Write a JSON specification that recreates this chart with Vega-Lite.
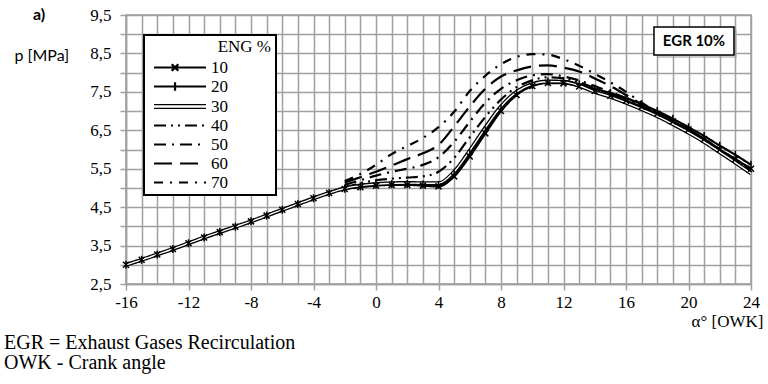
{
  "$schema": "https://vega.github.io/schema/vega-lite/v6.json",
  "width": 625,
  "height": 269,
  "autosize": {"type": "none"},
  "padding": {"left": 126, "top": 15, "right": 17, "bottom": 100},
  "background": "white",
  "config": {
    "view": {"stroke": "#a0a0a0", "strokeWidth": 1.5},
    "font": "Liberation Serif",
    "axis": {
      "grid": true, "gridColor": "#a0a0a0", "gridWidth": 1.5, "gridOpacity": 1,
      "domainColor": "#a0a0a0", "domainWidth": 1.5,
      "tickColor": "#a0a0a0", "tickWidth": 1.5, "tickSize": 6,
      "labelFont": "Liberation Serif", "labelFontSize": 17, "labelColor": "black",
      "labelOverlap": false, "labelFlush": false,
      "titleColor": "black", "titleFontWeight": "normal"
    },
    "title": {"font": "Liberation Serif", "fontWeight": "normal", "color": "black"}
  },
  "title": {"text": ["EGR = Exhaust Gases Recirculation", "OWK - Crank angle"], "orient": "bottom", "anchor": "start", "frame": "group", "dx": -122, "offset": 4, "font": "Liberation Serif", "fontSize": 20, "fontWeight": "normal", "lineHeight": 20, "color": "black"},
  "datasets": {
    "curves": [
      {"ENG":10,"angle":-16,"p":3.00},{"ENG":10,"angle":-15,"p":3.13},{"ENG":10,"angle":-14,"p":3.27},{"ENG":10,"angle":-13,"p":3.41},{"ENG":10,"angle":-12,"p":3.56},{"ENG":10,"angle":-11,"p":3.71},{"ENG":10,"angle":-10,"p":3.85},{"ENG":10,"angle":-9,"p":3.99},{"ENG":10,"angle":-8,"p":4.13},{"ENG":10,"angle":-7,"p":4.28},{"ENG":10,"angle":-6,"p":4.43},{"ENG":10,"angle":-5,"p":4.58},{"ENG":10,"angle":-4,"p":4.73},{"ENG":10,"angle":-3,"p":4.87},
      {"ENG":10,"angle":-2,"p":4.97},{"ENG":10,"angle":-1,"p":5.02},{"ENG":10,"angle":0,"p":5.06},{"ENG":10,"angle":1,"p":5.08},{"ENG":10,"angle":2,"p":5.08},{"ENG":10,"angle":3,"p":5.06},{"ENG":10,"angle":4,"p":5.04},{"ENG":10,"angle":5,"p":5.30},{"ENG":10,"angle":6,"p":5.82},{"ENG":10,"angle":7,"p":6.42},{"ENG":10,"angle":8,"p":7.00},{"ENG":10,"angle":9,"p":7.42},{"ENG":10,"angle":10,"p":7.65},{"ENG":10,"angle":11,"p":7.73},{"ENG":10,"angle":12,"p":7.72},{"ENG":10,"angle":13,"p":7.64},{"ENG":10,"angle":14,"p":7.52},{"ENG":10,"angle":15,"p":7.40},{"ENG":10,"angle":16,"p":7.27},{"ENG":10,"angle":17,"p":7.11},{"ENG":10,"angle":18,"p":6.93},{"ENG":10,"angle":19,"p":6.73},{"ENG":10,"angle":20,"p":6.52},{"ENG":10,"angle":21,"p":6.27},{"ENG":10,"angle":22,"p":6.00},{"ENG":10,"angle":23,"p":5.75},{"ENG":10,"angle":24,"p":5.50},
      {"ENG":20,"angle":-16,"p":3.00},{"ENG":20,"angle":-15,"p":3.13},{"ENG":20,"angle":-14,"p":3.27},{"ENG":20,"angle":-13,"p":3.41},{"ENG":20,"angle":-12,"p":3.56},{"ENG":20,"angle":-11,"p":3.71},{"ENG":20,"angle":-10,"p":3.85},{"ENG":20,"angle":-9,"p":3.99},{"ENG":20,"angle":-8,"p":4.13},{"ENG":20,"angle":-7,"p":4.28},{"ENG":20,"angle":-6,"p":4.43},{"ENG":20,"angle":-5,"p":4.58},{"ENG":20,"angle":-4,"p":4.73},{"ENG":20,"angle":-3,"p":4.87},
      {"ENG":20,"angle":-2,"p":4.98},{"ENG":20,"angle":-1,"p":5.04},{"ENG":20,"angle":0,"p":5.08},{"ENG":20,"angle":1,"p":5.10},{"ENG":20,"angle":2,"p":5.10},{"ENG":20,"angle":3,"p":5.09},{"ENG":20,"angle":4,"p":5.08},{"ENG":20,"angle":5,"p":5.36},{"ENG":20,"angle":6,"p":5.90},{"ENG":20,"angle":7,"p":6.50},{"ENG":20,"angle":8,"p":7.07},{"ENG":20,"angle":9,"p":7.47},{"ENG":20,"angle":10,"p":7.68},{"ENG":20,"angle":11,"p":7.77},{"ENG":20,"angle":12,"p":7.78},{"ENG":20,"angle":13,"p":7.70},{"ENG":20,"angle":14,"p":7.58},{"ENG":20,"angle":15,"p":7.47},{"ENG":20,"angle":16,"p":7.34},{"ENG":20,"angle":17,"p":7.18},{"ENG":20,"angle":18,"p":7.00},{"ENG":20,"angle":19,"p":6.80},{"ENG":20,"angle":20,"p":6.58},{"ENG":20,"angle":21,"p":6.35},{"ENG":20,"angle":22,"p":6.10},{"ENG":20,"angle":23,"p":5.86},{"ENG":20,"angle":24,"p":5.60},
      {"ENG":30,"angle":-16,"p":3.00},{"ENG":30,"angle":-15,"p":3.13},{"ENG":30,"angle":-14,"p":3.27},{"ENG":30,"angle":-13,"p":3.41},{"ENG":30,"angle":-12,"p":3.56},{"ENG":30,"angle":-11,"p":3.71},{"ENG":30,"angle":-10,"p":3.85},{"ENG":30,"angle":-9,"p":3.99},{"ENG":30,"angle":-8,"p":4.13},{"ENG":30,"angle":-7,"p":4.28},{"ENG":30,"angle":-6,"p":4.43},{"ENG":30,"angle":-5,"p":4.58},{"ENG":30,"angle":-4,"p":4.73},{"ENG":30,"angle":-3,"p":4.87},
      {"ENG":30,"angle":-2,"p":4.99},{"ENG":30,"angle":-1,"p":5.06},{"ENG":30,"angle":0,"p":5.10},{"ENG":30,"angle":1,"p":5.12},{"ENG":30,"angle":2,"p":5.13},{"ENG":30,"angle":3,"p":5.12},{"ENG":30,"angle":4,"p":5.12},{"ENG":30,"angle":5,"p":5.42},{"ENG":30,"angle":6,"p":5.97},{"ENG":30,"angle":7,"p":6.57},{"ENG":30,"angle":8,"p":7.12},{"ENG":30,"angle":9,"p":7.50},{"ENG":30,"angle":10,"p":7.70},{"ENG":30,"angle":11,"p":7.77},{"ENG":30,"angle":12,"p":7.76},{"ENG":30,"angle":13,"p":7.66},{"ENG":30,"angle":14,"p":7.50},{"ENG":30,"angle":15,"p":7.37},{"ENG":30,"angle":16,"p":7.22},{"ENG":30,"angle":17,"p":7.05},{"ENG":30,"angle":18,"p":6.87},{"ENG":30,"angle":19,"p":6.66},{"ENG":30,"angle":20,"p":6.44},{"ENG":30,"angle":21,"p":6.20},{"ENG":30,"angle":22,"p":5.93},{"ENG":30,"angle":23,"p":5.66},{"ENG":30,"angle":24,"p":5.38},
      {"ENG":40,"angle":-2,"p":5.02},{"ENG":40,"angle":-1,"p":5.12},{"ENG":40,"angle":0,"p":5.20},{"ENG":40,"angle":1,"p":5.24},{"ENG":40,"angle":2,"p":5.27},{"ENG":40,"angle":3,"p":5.30},{"ENG":40,"angle":4,"p":5.42},{"ENG":40,"angle":5,"p":5.78},{"ENG":40,"angle":6,"p":6.32},{"ENG":40,"angle":7,"p":6.85},{"ENG":40,"angle":8,"p":7.30},{"ENG":40,"angle":9,"p":7.62},{"ENG":40,"angle":10,"p":7.80},{"ENG":40,"angle":11,"p":7.88},{"ENG":40,"angle":12,"p":7.85},{"ENG":40,"angle":13,"p":7.75},{"ENG":40,"angle":14,"p":7.60},{"ENG":40,"angle":15,"p":7.45},{"ENG":40,"angle":16,"p":7.30},{"ENG":40,"angle":17,"p":7.10},{"ENG":40,"angle":18,"p":6.90},{"ENG":40,"angle":19,"p":6.70},{"ENG":40,"angle":20,"p":6.48},{"ENG":40,"angle":21,"p":6.23},{"ENG":40,"angle":22,"p":5.96},{"ENG":40,"angle":23,"p":5.70},{"ENG":40,"angle":24,"p":5.42},
      {"ENG":50,"angle":-2,"p":5.08},{"ENG":50,"angle":-1,"p":5.20},{"ENG":50,"angle":0,"p":5.32},{"ENG":50,"angle":1,"p":5.42},{"ENG":50,"angle":2,"p":5.50},{"ENG":50,"angle":3,"p":5.60},{"ENG":50,"angle":4,"p":5.80},{"ENG":50,"angle":5,"p":6.20},{"ENG":50,"angle":6,"p":6.72},{"ENG":50,"angle":7,"p":7.22},{"ENG":50,"angle":8,"p":7.58},{"ENG":50,"angle":9,"p":7.80},{"ENG":50,"angle":10,"p":7.93},{"ENG":50,"angle":11,"p":7.96},{"ENG":50,"angle":12,"p":7.90},{"ENG":50,"angle":13,"p":7.80},{"ENG":50,"angle":14,"p":7.65},{"ENG":50,"angle":15,"p":7.50},{"ENG":50,"angle":16,"p":7.33},{"ENG":50,"angle":17,"p":7.13},{"ENG":50,"angle":18,"p":6.92},{"ENG":50,"angle":19,"p":6.71},{"ENG":50,"angle":20,"p":6.49},{"ENG":50,"angle":21,"p":6.24},{"ENG":50,"angle":22,"p":5.97},{"ENG":50,"angle":23,"p":5.71},{"ENG":50,"angle":24,"p":5.44},
      {"ENG":60,"angle":-2,"p":5.14},{"ENG":60,"angle":-1,"p":5.28},{"ENG":60,"angle":0,"p":5.42},{"ENG":60,"angle":1,"p":5.58},{"ENG":60,"angle":2,"p":5.75},{"ENG":60,"angle":3,"p":5.90},{"ENG":60,"angle":4,"p":6.12},{"ENG":60,"angle":5,"p":6.60},{"ENG":60,"angle":6,"p":7.12},{"ENG":60,"angle":7,"p":7.58},{"ENG":60,"angle":8,"p":7.90},{"ENG":60,"angle":9,"p":8.06},{"ENG":60,"angle":10,"p":8.16},{"ENG":60,"angle":11,"p":8.19},{"ENG":60,"angle":12,"p":8.13},{"ENG":60,"angle":13,"p":8.03},{"ENG":60,"angle":14,"p":7.85},{"ENG":60,"angle":15,"p":7.65},{"ENG":60,"angle":16,"p":7.42},{"ENG":60,"angle":17,"p":7.18},{"ENG":60,"angle":18,"p":6.95},{"ENG":60,"angle":19,"p":6.74},{"ENG":60,"angle":20,"p":6.52},{"ENG":60,"angle":21,"p":6.27},{"ENG":60,"angle":22,"p":6.00},{"ENG":60,"angle":23,"p":5.74},{"ENG":60,"angle":24,"p":5.47},
      {"ENG":70,"angle":-2,"p":5.18},{"ENG":70,"angle":-1,"p":5.36},{"ENG":70,"angle":0,"p":5.60},{"ENG":70,"angle":1,"p":5.88},{"ENG":70,"angle":2,"p":6.09},{"ENG":70,"angle":3,"p":6.30},{"ENG":70,"angle":4,"p":6.58},{"ENG":70,"angle":5,"p":6.98},{"ENG":70,"angle":6,"p":7.52},{"ENG":70,"angle":7,"p":7.92},{"ENG":70,"angle":8,"p":8.22},{"ENG":70,"angle":9,"p":8.41},{"ENG":70,"angle":10,"p":8.48},{"ENG":70,"angle":11,"p":8.47},{"ENG":70,"angle":12,"p":8.35},{"ENG":70,"angle":13,"p":8.18},{"ENG":70,"angle":14,"p":7.97},{"ENG":70,"angle":15,"p":7.75},{"ENG":70,"angle":16,"p":7.50},{"ENG":70,"angle":17,"p":7.22},{"ENG":70,"angle":18,"p":6.97},{"ENG":70,"angle":19,"p":6.75},{"ENG":70,"angle":20,"p":6.52},{"ENG":70,"angle":21,"p":6.27},{"ENG":70,"angle":22,"p":6.00},{"ENG":70,"angle":23,"p":5.73},{"ENG":70,"angle":24,"p":5.46}
    ],
    "panel": [{"label": "a)"}],
    "box": [{"label": "EGR 10%"}]
  },
  "layer": [
    {
      "data": {"name": "curves"},
      "mark": {"type": "line", "interpolate": "monotone", "color": "black"},
      "encoding": {
        "x": {
          "field": "angle", "type": "quantitative",
          "scale": {"domain": [-16, 24], "nice": false, "zero": false},
          "axis": {
            "values": [-16,-15,-14,-13,-12,-11,-10,-9,-8,-7,-6,-5,-4,-3,-2,-1,0,1,2,3,4,5,6,7,8,9,10,11,12,13,14,15,16,17,18,19,20,21,22,23,24],
            "tickCount": 100,
            "labelExpr": "datum.value % 4 == 0 ? toString(datum.value) : ''",
            "tickOpacity": {"condition": {"test": "datum.value % 4 == 0", "value": 1}, "value": 0},
            "labelPadding": 4,
            "title": "α° [OWK]", "titleFont": "Liberation Serif", "titleFontSize": 17,
            "titleX": 637, "titleY": 42, "titleAlign": "right", "titleBaseline": "alphabetic"
          }
        },
        "y": {
          "field": "p", "type": "quantitative",
          "scale": {"domain": [2.5, 9.5], "nice": false, "zero": false},
          "axis": {
            "values": [2.5,3,3.5,4,4.5,5,5.5,6,6.5,7,7.5,8,8.5,9,9.5],
            "tickCount": 100,
            "labelExpr": "datum.value % 1 == 0.5 ? replace(toString(datum.value), '.', ',') : ''",
            "labelPadding": 9,
            "title": "p [MPa]", "titleFont": "Lato", "titleFontSize": 16,
            "titleAngle": 0, "titleX": -112, "titleY": 45, "titleAlign": "left", "titleBaseline": "alphabetic"
          }
        },
        "strokeDash": {
          "field": "ENG", "type": "nominal",
          "scale": {"domain": [10, 20, 30, 40, 50, 60, 70], "range": [[1, 0], [1, 0], [1, 0], [12, 5, 2, 5, 2, 5], [12, 6, 2, 6], [18, 8], [9, 7, 2, 7]]},
          "legend": {
            "orient": "none", "legendX": 18, "legendY": 20, "direction": "vertical",
            "title": "ENG %", "titleFont": "Liberation Serif", "titleFontSize": 17, "titleFontWeight": "normal", "titleColor": "black",
            "titleAnchor": "end", "titlePadding": 3,
            "labelFont": "Liberation Serif", "labelFontSize": 17, "labelColor": "black", "labelOffset": 46,
            "symbolType": "M-0.26,0H5.21", "symbolSize": 361, "symbolStrokeWidth": 2.2, "symbolStrokeColor": "black", "symbolFillColor": "transparent",
            "rowPadding": 1, "padding": 4, "strokeColor": "black", "fillColor": "white", "cornerRadius": 0,
            "encode": {
              "legend": {"update": {"strokeWidth": {"value": 2}}},
              "symbols": {"update": {
                "shape": {"signal": "datum.value == 10 ? 'M-0.26,0H5.21M1.6,-0.35L2.3,0.35M1.6,0.35L2.3,-0.35M11.63,0' : datum.value == 20 ? 'M-0.26,0H5.21M1.95,-0.45V0.45M11.63,0' : datum.value == 30 ? 'M-0.26,-0.2H5.21M-0.26,0.2H5.21M11.63,0' : 'M-0.26,0H5.21M11.63,0'"},
                "strokeWidth": {"signal": "datum.value == 30 ? 1.2 : 2.2"},
                "fill": {"value": "transparent"},
                "stroke": {"value": "black"}
              }}
            }
          }
        },
        "strokeWidth": {"condition": {"test": "datum.ENG == 30", "value": 4}, "value": 2.2}
      }
    },
    {
      "data": {"name": "curves"},
      "transform": [{"filter": "datum.ENG == 30"}],
      "mark": {"type": "line", "interpolate": "monotone", "color": "white", "strokeWidth": 1.4},
      "encoding": {"x": {"field": "angle", "type": "quantitative"}, "y": {"field": "p", "type": "quantitative"}}
    },
    {
      "data": {"name": "curves"},
      "transform": [{"filter": "datum.ENG == 10"}],
      "mark": {"type": "point", "shape": "M-1,-1L1,1M-1,1L1,-1", "size": 36, "stroke": "black", "strokeWidth": 1.5, "filled": false, "opacity": 1},
      "encoding": {"x": {"field": "angle", "type": "quantitative"}, "y": {"field": "p", "type": "quantitative"}}
    },
    {
      "data": {"name": "curves"},
      "transform": [{"filter": "datum.ENG == 20"}],
      "mark": {"type": "point", "shape": "M0,-1L0,1", "size": 64, "stroke": "black", "strokeWidth": 1.5, "filled": false, "opacity": 1},
      "encoding": {"x": {"field": "angle", "type": "quantitative"}, "y": {"field": "p", "type": "quantitative"}}
    },
    {
      "data": {"name": "box"},
      "mark": {"type": "rect", "fill": "#9a9a9a", "opacity": 0.5},
      "encoding": {"x": {"datum": 17.98}, "x2": {"datum": 23.1}, "y": {"datum": 9.11}, "y2": {"datum": 8.38}}
    },
    {
      "data": {"name": "box"},
      "mark": {"type": "rect", "fill": "white", "stroke": "black", "strokeWidth": 1.5},
      "encoding": {"x": {"datum": 17.79}, "x2": {"datum": 22.91}, "y": {"datum": 9.19}, "y2": {"datum": 8.46}}
    },
    {
      "data": {"name": "box"},
      "mark": {"type": "text", "font": "Lato", "fontSize": 15, "fontWeight": "bold", "color": "black", "align": "center", "baseline": "middle"},
      "encoding": {"x": {"datum": 20.35}, "y": {"datum": 8.82}, "text": {"field": "label"}}
    },
    {
      "data": {"name": "panel"},
      "mark": {"type": "text", "font": "Lato", "fontSize": 16, "fontWeight": "bold", "color": "black", "align": "left", "baseline": "alphabetic"},
      "encoding": {"x": {"datum": -21.95}, "y": {"datum": 9.37}, "text": {"field": "label"}}
    }
  ]
}
